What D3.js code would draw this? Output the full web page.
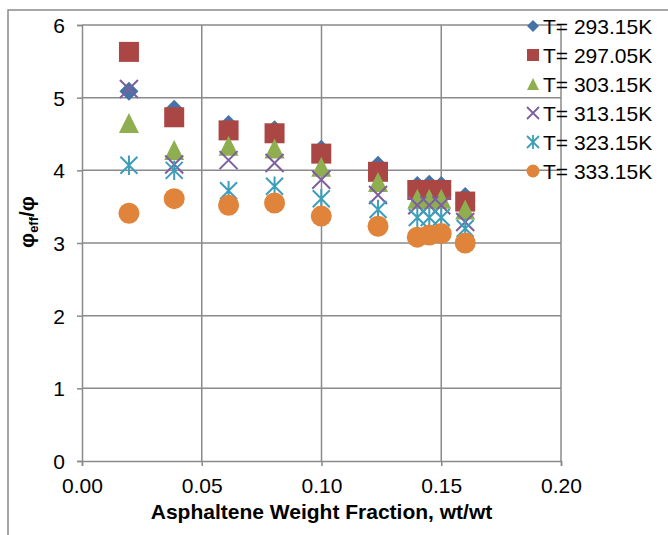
<!DOCTYPE html>
<html>
<head>
<meta charset="UTF-8">
<title>phi_eff / phi vs asphaltene fraction</title>
<script src="https://cdn.jsdelivr.net/npm/d3@7"></script>
<style>
  body { margin: 0; background: #fff; overflow: hidden; }
  text { font-family: "Liberation Sans", Arial, sans-serif; fill: #000; }
  .grid line { stroke: #8a8a8a; stroke-width: 1.5; }
  .tick text { font-size: 21px; }
</style>
</head>
<body>
<svg width="668" height="535"></svg>
<script>

// asphaltene weight fraction (same for every series)
var fractions = [0.0196, 0.0385, 0.0612, 0.0804, 0.0999, 0.1236, 0.140, 0.145, 0.150, 0.160];

var temps = ["T= 293.15K", "T= 297.05K", "T= 303.15K", "T= 313.15K", "T= 323.15K", "T= 333.15K"];

var t293 = [5.09, 4.84, 4.63, 4.56, 4.29, 4.07, 3.79, 3.81, 3.79, 3.64];
var t297 = [5.63, 4.73, 4.55, 4.51, 4.23, 3.98, 3.73, 3.73, 3.73, 3.57];
var t303 = [4.65, 4.28, 4.34, 4.30, 4.05, 3.84, 3.61, 3.61, 3.61, 3.46];
var t313 = [5.12, 4.08, 4.14, 4.10, 3.87, 3.66, 3.52, 3.52, 3.52, 3.29];
var t323 = [4.07, 4.00, 3.72, 3.78, 3.61, 3.46, 3.35, 3.35, 3.35, 3.20];
var t333 = [3.41, 3.61, 3.52, 3.55, 3.37, 3.23, 3.08, 3.11, 3.13, 3.00];

var xTicks = [0, 0.05, 0.10, 0.15, 0.20];
var yTicks = [0, 1, 2, 3, 4, 5, 6];

var shapes = ["diamond", "square", "triangle", "cross", "star", "circle"];
var colors = ["#4572A7", "#AA4643", "#8EAE4F", "#7D5F9E", "#3D9EBA", "#E0843C"];

var seriesValues = [t293, t297, t303, t313, t323, t333];
var series = temps.map(function(name, i) {
  return {
    name: name, shape: shapes[i], color: colors[i],
    points: fractions.map(function(f, j) { return {x: f, y: seriesValues[i][j]}; })
  };
});

var svg = d3.select("svg");

var margin = {left: 82, right: 107, top: 25, bottom: 74},
    width = 668 - margin.left - margin.right,
    height = 535 - margin.top - margin.bottom;

// outer chart frame (only top and left edge are visible)
svg.append("path")
  .attr("d", "M8,535 L8,10 L668,10")
  .attr("fill", "none")
  .attr("stroke", "#8a8a8a")
  .attr("stroke-width", 1.5);

var g = svg.append("g").attr("transform", "translate(" + margin.left + "," + margin.top + ")");

var x = d3.scaleLinear().domain([0, 0.20]).range([0, width]);
var y = d3.scaleLinear().domain([0, 6]).range([height, 0]);

// gridlines
g.append("g").attr("class", "grid")
  .selectAll("line").data(yTicks.slice(1)).enter().append("line")
  .attr("x1", 0).attr("x2", width)
  .attr("y1", d => y(d)).attr("y2", d => y(d));

g.append("g").attr("class", "grid")
  .selectAll("line").data(xTicks.slice(1)).enter().append("line")
  .attr("y1", 0).attr("y2", height)
  .attr("x1", d => x(d)).attr("x2", d => x(d));

// axes
var xAxis = g.append("g")
  .attr("transform", "translate(0," + height + ")")
  .call(d3.axisBottom(x).tickValues(xTicks).tickFormat(d3.format(".2f")).tickSize(5).tickPadding(12));

var yAxis = g.append("g")
  .call(d3.axisLeft(y).tickValues(yTicks).tickFormat(d3.format("d")).tickSize(5).tickPadding(12));

[xAxis, yAxis].forEach(function(a) {
  a.select(".domain").attr("stroke", "#8a8a8a").attr("stroke-width", 1.5);
  a.selectAll(".tick line").attr("stroke", "#8a8a8a").attr("stroke-width", 1.5);
  a.selectAll(".tick text").attr("font-family", null).attr("font-size", null);
});
xAxis.selectAll(".tick text").attr("dy", "0.71em");
yAxis.selectAll(".tick text").attr("dy", "0.36em");

// marker drawing
function markerPath(kind, r) {
  switch (kind) {
    case "diamond":  return "M0," + (-r) + "L" + r + ",0L0," + r + "L" + (-r) + ",0Z";
    case "square":   return "M" + (-r) + "," + (-r) + "H" + r + "V" + r + "H" + (-r) + "Z";
    case "triangle": return "M0," + (-r) + "L" + r + "," + r + "L" + (-r) + "," + r + "Z";
    case "cross":    return "M" + (-r) + "," + (-r) + "L" + r + "," + r + "M" + r + "," + (-r) + "L" + (-r) + "," + r;
    case "star":     return "M" + (-r) + "," + (-r) + "L" + r + "," + r + "M" + r + "," + (-r) + "L" + (-r) + "," + r +
                            "M0," + (-r * 1.15) + "L0," + (r * 1.15);
    case "circle":   return d3.arc()({innerRadius: 0, outerRadius: r, startAngle: 0, endAngle: 2 * Math.PI});
  }
}
var open = {cross: true, star: true};
var bigSize = {diamond: 9.5, square: 10, triangle: 10, cross: 9, star: 8.5, circle: 10.5};

function styleMarker(sel, s) {
  if (open[s.shape]) {
    sel.attr("fill", "none").attr("stroke", s.color).attr("stroke-width", 2);
  } else {
    sel.attr("fill", s.color).attr("stroke", "none");
  }
}

series.forEach(function(s) {
  var m = g.append("g").selectAll("path").data(s.points).enter().append("path")
    .attr("transform", d => "translate(" + x(d.x) + "," + y(d.y) + ")")
    .attr("d", markerPath(s.shape, bigSize[s.shape]));
  styleMarker(m, s);
});

// legend (drawn over the plot, no background)
var legend = svg.append("g").attr("transform", "translate(533,26)");
var rows = legend.selectAll("g").data(series).enter().append("g")
  .attr("transform", (d, i) => "translate(0," + (i * 29) + ")");
rows.each(function(s) {
  var m = d3.select(this).append("path")
    .attr("d", markerPath(s.shape, s.shape === "circle" ? 6.5 : 6));
  styleMarker(m, s);
  if (open[s.shape]) m.attr("stroke-width", 1.8);
});
rows.append("text")
  .attr("x", 10).attr("dy", "0.36em")
  .attr("font-size", 21)
  .text(d => d.name);

// axis titles
svg.append("text")
  .attr("x", margin.left + width / 2).attr("y", 519)
  .attr("text-anchor", "middle")
  .attr("font-size", 21).attr("font-weight", "bold")
  .text("Asphaltene Weight Fraction, wt/wt");

var yt = svg.append("text")
  .attr("transform", "translate(34,222) rotate(-90)")
  .attr("text-anchor", "middle")
  .attr("font-size", 21).attr("font-weight", "bold");
yt.append("tspan").text("φ");
yt.append("tspan").attr("font-size", 13).attr("dy", 4).text("eff");
yt.append("tspan").attr("dy", -4).text("/φ");

</script>
</body>
</html>
